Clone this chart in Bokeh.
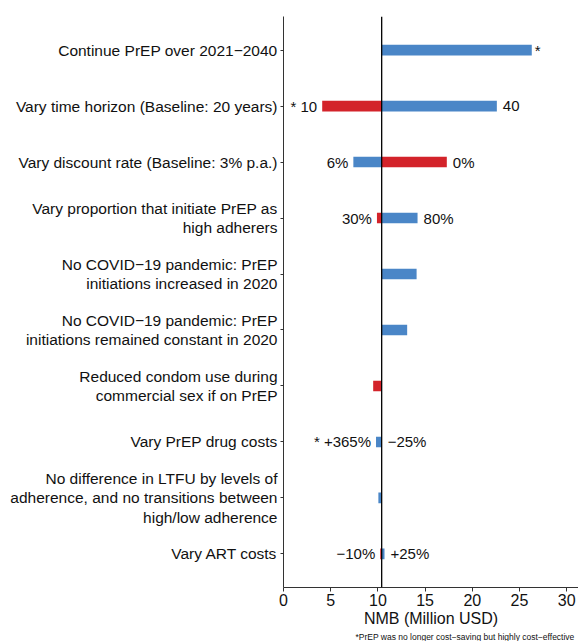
from bokeh.plotting import figure
from bokeh.models import Range1d, FixedTicker, Span, ColumnDataSource, Title
from bokeh.embed import file_html
from bokeh.resources import INLINE
from bokeh.core.properties import value

# ---------------- data ----------------
categories = [
    "Continue PrEP over 2021\u22122040",
    "Vary time horizon (Baseline: 20 years)",
    "Vary discount rate (Baseline: 3% p.a.)",
    "Vary proportion that initiate PrEP as\nhigh adherers",
    "No COVID\u221219 pandemic: PrEP\ninitiations increased in 2020",
    "No COVID\u221219 pandemic: PrEP\ninitiations remained constant in 2020",
    "Reduced condom use during\ncommercial sex if on PrEP",
    "Vary PrEP drug costs",
    "No difference in LTFU by levels of\nadherence, and no transitions between\nhigh/low adherence",
    "Vary ART costs",
]
# NMB (million USD) under the "high" (blue) and "low" (red) parameter values
high_nmb = [26.3, 22.6, 7.4, 14.2, 14.1, 13.1, None, 9.8, 10.05, 10.7]
low_nmb = [None, 4.1, 17.3, 9.9, None, None, 9.5, 10.4, None, 10.25]
high_labels = ["*", "40", "6%", "80%", "", "", "", "* +365%", "", "+25%"]
low_labels = ["", "* 10", "0%", "30%", "", "", "", "\u221225%", "", "\u221210%"]
baseline_nmb = 10.4
x_ticks = [0, 5, 10, 15, 20, 25, 30]
x_title = "NMB (Million USD)"
footnote = "*PrEP was no longer cost\u2212saving but highly cost\u2212effective"

BLUE = "#4a86c7"
RED = "#d3232a"
FONT = "Liberation Sans"
TXT = "#111111"

rows = list(range(1, len(categories) + 1))

p = figure(width=578, height=641,
           x_range=Range1d(0, 31.25), y_range=Range1d(len(rows) + 0.6, 0.4),
           output_backend="svg", toolbar_location=None,
           min_border_left=283, min_border_right=0,
           min_border_top=16, min_border_bottom=53)
p.xgrid.visible = False
p.ygrid.visible = False
p.outline_line_color = None
p.background_fill_color = "white"

# bars
for vals, color in ((high_nmb, BLUE), (low_nmb, RED)):
    ys = [r for r, v in zip(rows, vals) if v is not None]
    xs = [v for v in vals if v is not None]
    src = ColumnDataSource(dict(y=ys, right=xs, left=[baseline_nmb] * len(xs)))
    p.hbar(y="y", left="left", right="right", height=0.19, source=src,
           fill_color=color, line_color=None)

# baseline line
p.add_layout(Span(location=baseline_nmb, dimension="height",
                  line_color="black", line_width=1.3))

# value labels
for vals, labs in ((high_nmb, high_labels), (low_nmb, low_labels)):
    xs, ys, ts, al, off = [], [], [], [], []
    for r, v, t in zip(rows, vals, labs):
        if v is None or not t:
            continue
        xs.append(v)
        ys.append(r)
        ts.append(t)
        right_side = v >= baseline_nmb
        al.append("left" if right_side else "right")
        off.append((3 if t == "*" else 6) if right_side else -5)
    src = ColumnDataSource(dict(x=xs, y=ys, text=ts, align=al, off=off))
    p.text(x="x", y="y", text="text", source=src, text_align="align",
           x_offset="off", text_baseline="middle",
           text_font=value(FONT), text_font_size="15px", text_color=TXT)

# y axis with category labels
p.yaxis.ticker = FixedTicker(ticks=rows)
p.yaxis.major_label_overrides = {r: c for r, c in zip(rows, categories)}
p.yaxis.major_tick_out = 3
p.yaxis.major_tick_in = 0
p.yaxis.minor_tick_line_color = None
p.yaxis.axis_line_color = "#333333"
p.yaxis.major_tick_line_color = "#333333"
p.yaxis.major_label_standoff = 3
p.yaxis.major_label_text_font = FONT
p.yaxis.major_label_text_font_size = "15.5px"
p.yaxis.major_label_text_line_height = 1.13
p.yaxis.major_label_text_color = TXT

# x axis
p.xaxis.ticker = FixedTicker(ticks=x_ticks)
p.xaxis.major_tick_out = 4
p.xaxis.major_tick_in = 0
p.xaxis.minor_tick_line_color = None
p.xaxis.axis_line_color = "#333333"
p.xaxis.major_tick_line_color = "#333333"
p.xaxis.major_label_text_font = FONT
p.xaxis.major_label_text_font_size = "16px"
p.xaxis.major_label_text_color = TXT
p.xaxis.major_label_standoff = 2
p.xaxis.axis_label = x_title
p.xaxis.axis_label_text_font = FONT
p.xaxis.axis_label_text_font_size = "16px"
p.xaxis.axis_label_text_font_style = "normal"
p.xaxis.axis_label_text_color = TXT
p.xaxis.axis_label_standoff = 1

p.add_layout(Title(text=footnote, align="right", offset=4, standoff=0,
                   text_font=FONT, text_font_size="8.5px",
                   text_font_style="normal", text_color=TXT), "below")

open("out.html", "w").write(file_html(p, INLINE))
